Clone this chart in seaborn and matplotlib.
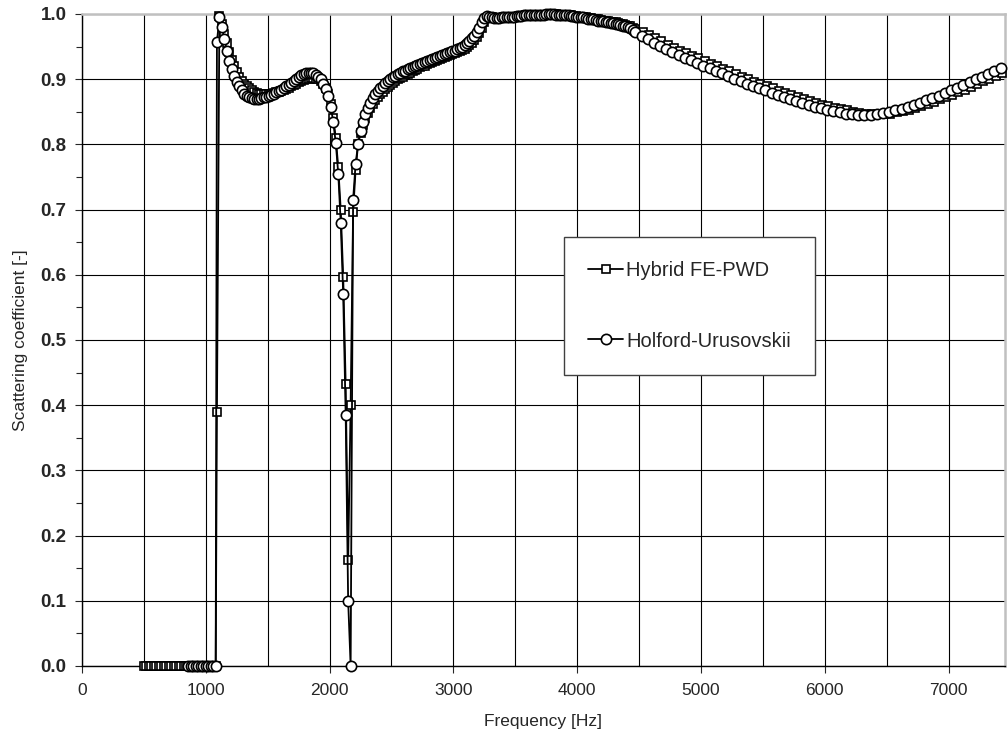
import numpy as np
import pandas as pd
import matplotlib
matplotlib.use("Agg")
import matplotlib.pyplot as plt
from matplotlib.ticker import MultipleLocator, FormatStrFormatter
import seaborn as sns

# ---- Frequency grids [Hz] ----
hyb_zero_freq = np.arange(500, 1081, 20)      # below cut-on, Hybrid FE-PWD
hol_zero_freq = np.arange(860, 1081, 20)      # below cut-on, Holford-Urusovskii
dense_freq = np.arange(1090, 4471, 20)        # fine sweep
hyb_sparse_freq = np.arange(4530, 7431, 50)   # coarse sweep
hol_sparse_freq = np.arange(4520, 7421, 50)

# ---- Hybrid FE-PWD scattering coefficient ----
hyb_dense = [
    0.390, 0.997, 0.984, 0.970, 0.955, 0.942, 0.930, 0.920, 0.911, 0.904,  # 1090
    0.898, 0.893, 0.889, 0.886, 0.883, 0.881, 0.879, 0.878, 0.877, 0.877,  # 1290
    0.877, 0.877, 0.878, 0.879, 0.880, 0.881, 0.882, 0.884, 0.885, 0.887,  # 1490
    0.889, 0.891, 0.893, 0.895, 0.897, 0.899, 0.900, 0.901, 0.902, 0.902,  # 1690
    0.901, 0.900, 0.897, 0.893, 0.887, 0.878, 0.862, 0.840, 0.810, 0.765,  # 1890
    0.700, 0.597, 0.432, 0.163, 0.400, 0.697, 0.760, 0.800, 0.818, 0.830,  # 2090
    0.840, 0.848, 0.856, 0.862, 0.868, 0.873, 0.877, 0.881, 0.885, 0.888,  # 2290
    0.891, 0.894, 0.897, 0.900, 0.902, 0.904, 0.906, 0.908, 0.910, 0.912,  # 2490
    0.914, 0.916, 0.918, 0.920, 0.921, 0.923, 0.925, 0.926, 0.928, 0.929,  # 2690
    0.931, 0.932, 0.934, 0.935, 0.937, 0.938, 0.940, 0.942, 0.943, 0.945,  # 2890
    0.947, 0.950, 0.953, 0.956, 0.960, 0.965, 0.971, 0.979, 0.987, 0.994,  # 3090
    0.996, 0.995, 0.994, 0.994, 0.994, 0.994, 0.995, 0.995, 0.995, 0.996,  # 3290
    0.996, 0.996, 0.997, 0.997, 0.997, 0.998, 0.998, 0.998, 0.998, 0.999,  # 3490
    0.999, 0.999, 0.999, 0.999, 1.000, 1.000, 1.000, 1.000, 0.999, 0.999,  # 3690
    0.999, 0.999, 0.998, 0.998, 0.997, 0.997, 0.996, 0.996, 0.995, 0.995,  # 3890
    0.994, 0.994, 0.993, 0.992, 0.992, 0.991, 0.990, 0.990, 0.989, 0.988,  # 4090
    0.988, 0.987, 0.986, 0.985, 0.984, 0.983, 0.982, 0.981, 0.979, 0.977,  # 4290
]
hyb_sparse = [
    0.973, 0.968, 0.963, 0.958, 0.953, 0.948, 0.944, 0.940, 0.936, 0.932,  # 4530
    0.928, 0.924, 0.920, 0.916, 0.912, 0.908, 0.904, 0.900, 0.896, 0.893,  # 5030
    0.889, 0.886, 0.882, 0.879, 0.876, 0.873, 0.870, 0.867, 0.864, 0.861,  # 5530
    0.859, 0.856, 0.854, 0.852, 0.850, 0.848, 0.847, 0.846, 0.846, 0.846,  # 6030
    0.847, 0.849, 0.851, 0.853, 0.856, 0.859, 0.862, 0.865, 0.869, 0.872,  # 6530
    0.876, 0.880, 0.884, 0.888, 0.893, 0.897, 0.901, 0.905, 0.910,         # 7030
]

# ---- Holford-Urusovskii scattering coefficient ----
hol_dense = [
    0.957, 0.995, 0.980, 0.962, 0.944, 0.928, 0.915, 0.905, 0.896, 0.889,  # 1090
    0.883, 0.878, 0.875, 0.872, 0.871, 0.870, 0.870, 0.870, 0.871, 0.872,  # 1290
    0.873, 0.875, 0.876, 0.878, 0.880, 0.882, 0.884, 0.886, 0.889, 0.891,  # 1490
    0.894, 0.897, 0.900, 0.903, 0.906, 0.908, 0.909, 0.910, 0.910, 0.909,  # 1690
    0.907, 0.904, 0.900, 0.893, 0.885, 0.874, 0.857, 0.834, 0.802, 0.755,  # 1890
    0.680, 0.570, 0.385, 0.100, 0.000, 0.715, 0.770, 0.800, 0.820, 0.834,  # 2090
    0.846, 0.856, 0.864, 0.871, 0.877, 0.882, 0.886, 0.890, 0.894, 0.897,  # 2290
    0.900, 0.903, 0.905, 0.908, 0.910, 0.912, 0.913, 0.915, 0.917, 0.918,  # 2490
    0.920, 0.922, 0.923, 0.925, 0.926, 0.928, 0.929, 0.931, 0.932, 0.934,  # 2690
    0.935, 0.937, 0.938, 0.940, 0.941, 0.943, 0.944, 0.946, 0.948, 0.950,  # 2890
    0.953, 0.956, 0.959, 0.963, 0.967, 0.972, 0.979, 0.987, 0.994, 0.997,  # 3090
    0.996, 0.995, 0.994, 0.994, 0.994, 0.995, 0.995, 0.995, 0.996, 0.996,  # 3290
    0.996, 0.997, 0.997, 0.997, 0.998, 0.998, 0.998, 0.998, 0.999, 0.999,  # 3490
    0.999, 0.999, 0.999, 1.000, 1.000, 1.000, 1.000, 0.999, 0.999, 0.999,  # 3690
    0.999, 0.998, 0.998, 0.997, 0.997, 0.996, 0.996, 0.995, 0.995, 0.994,  # 3890
    0.993, 0.993, 0.992, 0.991, 0.990, 0.990, 0.989, 0.988, 0.987, 0.986,  # 4090
    0.986, 0.985, 0.984, 0.983, 0.982, 0.981, 0.980, 0.978, 0.975, 0.972,  # 4290
]
hol_sparse = [
    0.966, 0.961, 0.956, 0.951, 0.946, 0.941, 0.937, 0.933, 0.929, 0.925,  # 4520
    0.921, 0.917, 0.913, 0.909, 0.905, 0.901, 0.897, 0.893, 0.890, 0.886,  # 5020
    0.883, 0.879, 0.876, 0.873, 0.870, 0.867, 0.864, 0.861, 0.858, 0.856,  # 5520
    0.853, 0.851, 0.849, 0.847, 0.846, 0.845, 0.845, 0.845, 0.846, 0.848,  # 6020
    0.850, 0.852, 0.855, 0.858, 0.861, 0.864, 0.868, 0.871, 0.875, 0.879,  # 6520
    0.883, 0.887, 0.891, 0.896, 0.900, 0.904, 0.908, 0.913, 0.917,         # 7020
]

series_names = ["Hybrid FE-PWD", "Holford-Urusovskii"]
x_ticks = [0, 1000, 2000, 3000, 4000, 5000, 6000, 7000]

hyb = pd.DataFrame({
    "freq": np.concatenate([hyb_zero_freq, dense_freq, hyb_sparse_freq]),
    "coef": np.concatenate([np.zeros(len(hyb_zero_freq)), hyb_dense, hyb_sparse]),
})
hol = pd.DataFrame({
    "freq": np.concatenate([hol_zero_freq, dense_freq, hol_sparse_freq]),
    "coef": np.concatenate([np.zeros(len(hol_zero_freq)), hol_dense, hol_sparse]),
})

sns.set_style("white")
plt.rcParams["font.family"] = ["Liberation Sans", "DejaVu Sans"]

W, H = 1008, 738
fig = plt.figure(figsize=(W / 100, H / 100), dpi=100)
ax = fig.add_axes([82 / W, 1 - 666 / H, (1005 - 82) / W, (666 - 14) / H])

common = dict(ax=ax, x="freq", y="coef", color="black", linewidth=1.3,
              markerfacecolor="white", markeredgecolor="black",
              markeredgewidth=1.2, estimator=None, sort=False,
              clip_on=False)
sns.lineplot(data=hyb, marker="s", markersize=6.4, label=series_names[0],
             zorder=3, **common)
sns.lineplot(data=hol, marker="o", markersize=7.4, label=series_names[1],
             zorder=4, **common)

ax.set_xlim(0, 7456)
ax.set_ylim(0, 1.0)
ax.set_xticks(x_ticks)
ax.xaxis.set_minor_locator(MultipleLocator(500))
ax.yaxis.set_major_locator(MultipleLocator(0.1))
ax.yaxis.set_minor_locator(MultipleLocator(0.05))
ax.yaxis.set_major_formatter(FormatStrFormatter("%.1f"))

ax.grid(True, which="major", axis="y", color="black", linewidth=0.8)
ax.grid(True, which="both", axis="x", color="black", linewidth=0.8)
ax.set_axisbelow(True)

ax.tick_params(axis="x", which="major", direction="out", length=5, width=0.8,
               labelsize=12.5, pad=7, bottom=True)
ax.tick_params(axis="x", which="minor", length=0)
ax.tick_params(axis="y", which="major", direction="out", length=5, width=0.8,
               labelsize=13.5, pad=6, left=True)
ax.tick_params(axis="y", which="minor", direction="out", length=4, width=0.8,
               left=True)
for lbl in ax.get_yticklabels():
    lbl.set_fontweight("bold")

for side in ("left", "bottom"):
    ax.spines[side].set_color("black")
    ax.spines[side].set_linewidth(1.0)
for side in ("top", "right"):
    ax.spines[side].set_color("#c0c0c0")
    ax.spines[side].set_linewidth(1.8)

ax.set_xlabel("Frequency [Hz]", fontsize=12.5, labelpad=12)
ax.set_ylabel("Scattering coefficient [-]", fontsize=12.5, labelpad=9)

handles, labels = ax.get_legend_handles_labels()
leg = ax.legend(handles, labels, loc="upper left",
                bbox_to_anchor=(564 / W, 1 - 237 / H),
                bbox_transform=fig.transFigure, borderaxespad=0,
                fontsize=14.5, frameon=True, fancybox=False,
                edgecolor="#404040", framealpha=1, labelspacing=2.55,
                handlelength=1.75, handletextpad=0.15, borderpad=1.2,
                markerscale=1.0)
leg.get_frame().set_linewidth(1.0)

fig.savefig("out.png", dpi=100)
